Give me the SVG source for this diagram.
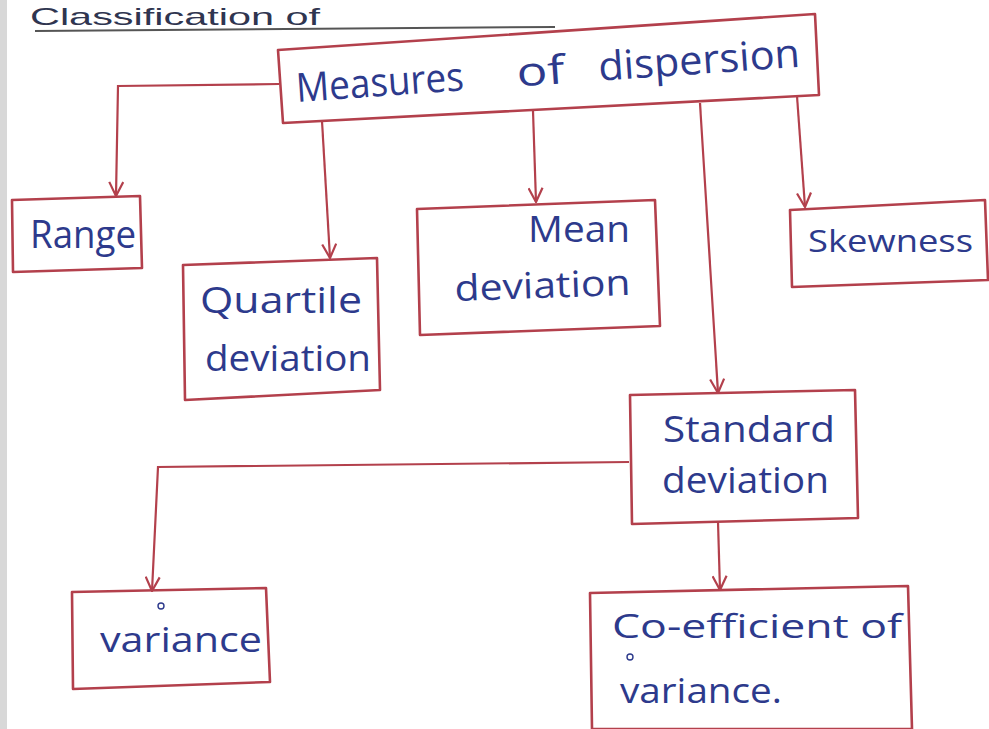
<svg xmlns="http://www.w3.org/2000/svg" width="989" height="729" viewBox="0 0 989 729">
  <style>
    .box { fill: none; stroke: #b3404c; stroke-width: 2.6; stroke-linejoin: round; }
    .wire { fill: none; stroke: #b3404c; stroke-width: 2.2; marker-end: url(#chev); }
    .ink { fill: #2d3a8c; font-family: "Open Sans", "Liberation Sans", sans-serif; font-weight: 400; }
    .title { fill: #2f3550; font-family: "Liberation Sans", sans-serif; }
    .dot { fill: none; stroke: #2d3a8c; stroke-width: 1.4; }
  </style>
  <defs>
    <marker id="chev" viewBox="0 0 16 16" refX="15" refY="8" markerWidth="16" markerHeight="16" markerUnits="userSpaceOnUse" orient="auto">
      <path d="M1,1 L15,8 L1,15" fill="none" stroke="#b3404c" stroke-width="2.2"/>
    </marker>
  </defs>

  <!-- paper -->
  <rect x="0" y="0" width="989" height="729" fill="#ffffff"/>
  <rect x="0" y="0" width="7" height="729" fill="#d8d8d8"/>

  <!-- heading along the page top -->
  <g id="heading">
    <text class="title" x="30" y="25" font-size="24" textLength="290" lengthAdjust="spacingAndGlyphs">Classification of</text>
    <path d="M35,31 L555,27" stroke="#555" stroke-width="2" fill="none"/>
  </g>

  <!-- connectors -->
  <g id="connectors">
    <path class="wire" d="M279,84 L118,86 L116,196"/>
    <path class="wire" d="M322,121 L330,258"/>
    <path class="wire" d="M533,111 L536,202"/>
    <path class="wire" d="M700,103 L718,393"/>
    <path class="wire" d="M797,96 L805,207"/>
    <path class="wire" d="M629,462 L158,467 L152,591"/>
    <path class="wire" d="M718,522 L720,590"/>
  </g>

  <g id="measures">
    <polygon class="box" points="278,50 815,14 819,95 283,123"/>
    <g transform="rotate(-4 297 102)">
      <text class="ink" x="297" y="102" font-size="40" textLength="168" lengthAdjust="spacingAndGlyphs">Measures</text>
      <text class="ink" x="518" y="102" font-size="40" textLength="48" lengthAdjust="spacingAndGlyphs">of</text>
      <text class="ink" x="600" y="102" font-size="40" textLength="202" lengthAdjust="spacingAndGlyphs">dispersion</text>
    </g>
  </g>

  <g id="range">
    <polygon class="box" points="12,200 140,196 142,268 13,272"/>
    <text class="ink" x="30" y="248" font-size="38" textLength="106" lengthAdjust="spacingAndGlyphs">Range</text>
  </g>

  <g id="quartile">
    <polygon class="box" points="183,265 377,258 380,390 185,400"/>
    <text class="ink" x="200" y="313" font-size="36" textLength="162" lengthAdjust="spacingAndGlyphs">Quartile</text>
    <text class="ink" x="205" y="371" font-size="36" textLength="166" lengthAdjust="spacingAndGlyphs">deviation</text>
  </g>

  <g id="mean">
    <polygon class="box" points="417,209 655,200 660,326 420,335"/>
    <text class="ink" x="528" y="242" font-size="36" textLength="102" lengthAdjust="spacingAndGlyphs">Mean</text>
    <text class="ink" x="455" y="301" font-size="36" textLength="176" lengthAdjust="spacingAndGlyphs" transform="rotate(-2 455 301)">deviation</text>
  </g>

  <g id="skewness">
    <polygon class="box" points="790,210 985,200 988,280 792,287"/>
    <text class="ink" x="808" y="252" font-size="31" textLength="165" lengthAdjust="spacingAndGlyphs">Skewness</text>
  </g>

  <g id="standard">
    <polygon class="box" points="630,395 855,390 858,518 632,524"/>
    <text class="ink" x="663" y="442" font-size="36" textLength="172" lengthAdjust="spacingAndGlyphs">Standard</text>
    <text class="ink" x="662" y="493" font-size="36" textLength="167" lengthAdjust="spacingAndGlyphs">deviation</text>
  </g>

  <g id="variance">
    <polygon class="box" points="72,592 266,588 270,682 73,689"/>
    <circle class="dot" cx="161" cy="606" r="3"/>
    <text class="ink" x="100" y="652" font-size="34" textLength="162" lengthAdjust="spacingAndGlyphs">variance</text>
  </g>

  <g id="coefficient">
    <polygon class="box" points="590,593 908,586 912,729 592,729"/>
    <text class="ink" x="612" y="638" font-size="32" textLength="290" lengthAdjust="spacingAndGlyphs">Co-efficient of</text>
    <circle class="dot" cx="630" cy="657" r="3"/>
    <text class="ink" x="620" y="703" font-size="34" textLength="162" lengthAdjust="spacingAndGlyphs">variance.</text>
  </g>
</svg>
